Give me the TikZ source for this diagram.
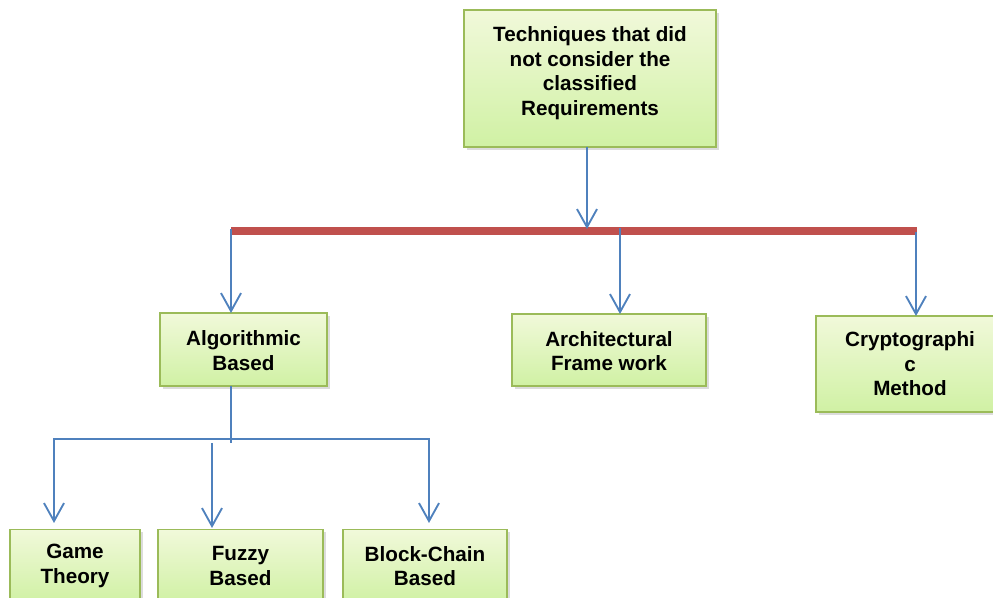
\documentclass[tikz,border=0pt]{standalone}
\usepackage{fontspec}
\setmainfont{Liberation Sans}
\usetikzlibrary{arrows.meta,shadows}
\definecolor{boxborder}{RGB}{155,187,89}
\definecolor{boxtop}{RGB}{241,249,218}
\definecolor{boxbot}{RGB}{208,241,164}
\definecolor{linkblue}{RGB}{79,129,189}
\definecolor{barred}{RGB}{192,80,77}
\begin{document}
\begin{tikzpicture}[x=0.75pt,y=-0.75pt,
  box/.style 2 args={draw=boxborder, line width=1.1pt,
    top color=boxtop, bottom color=boxbot,
    minimum width=#1*0.75pt, minimum height=#2*0.75pt,
    inner sep=0pt, align=center,
    font=\bfseries\fontsize{15.5}{18.4}\selectfont,
    drop shadow={shadow xshift=2pt, shadow yshift=-2pt, opacity=0.3, fill=black!45}},
  label/.style={align=center, inner sep=0pt,
    font=\bfseries\fontsize{15.5}{18.4}\selectfont},
  link/.style={draw=linkblue, line width=1.5pt},
  linkarrow/.style={link, -{Straight Barb[length=13.5pt,width=15pt,line width=1.4pt]}},
  bar/.style={draw=barred, line width=6pt}]
\useasboundingbox (0,0) rectangle (993,598);

% boxes
\node[box={252}{137}] (root) at (590,78.5) {};
\node[label] (rootlabel) at (590,73) {Techniques that did\\not consider the\\classified\\Requirements};
\node[box={167}{73}] (alg) at (243.5,349.5) {\strut Algorithmic\\Based};
\node[box={194}{72}] (arch) at (609,350) {\strut Architectural\\Frame work};
\node[box={188}{96}] (crypto) at (910,364) {Cryptographi\\c\\Method};
\node[box={130}{73}] (game) at (75,566) {Game\\Theory};
\node[box={165}{73}] (fuzzy) at (240.5,566) {Fuzzy\\Based};
\node[box={164}{73}] (block) at (425,566) {Block-Chain\\Based};

% main red bar
\coordinate (barL) at (231,231);
\coordinate (barR) at (917,231);
\draw[bar] (barL) -- (barR);

% root to bar
\coordinate (rootout) at (587,147);
\coordinate (rootin) at (587,229);
\draw[linkarrow] (rootout) -- (rootin);

% bar to first level
\coordinate (algin) at (231,229);
\coordinate (algtop) at (231,313);
\coordinate (archin) at (620,228);
\coordinate (archtop) at (620,314);
\coordinate (cryin) at (916,232);
\coordinate (crytop) at (916,316);
\draw[linkarrow] (algin) -- (algtop);
\draw[linkarrow] (archin) -- (archtop);
\draw[linkarrow] (cryin) -- (crytop);

% algorithmic branch
\coordinate (algout) at (231,386);
\coordinate (algend) at (231,443);
\coordinate (subL) at (53,439);
\coordinate (subR) at (430,439);
\draw[link] (algout) -- (algend);
\draw[link] (subL) -- (subR);

\coordinate (gamein) at (54,439);
\coordinate (gametop) at (54,523);
\coordinate (fuzzyin) at (212,443);
\coordinate (fuzzytop) at (212,528);
\coordinate (blockin) at (429,439);
\coordinate (blocktop) at (429,523);
\draw[linkarrow] (gamein) -- (gametop);
\draw[linkarrow] (fuzzyin) -- (fuzzytop);
\draw[linkarrow] (blockin) -- (blocktop);
\end{tikzpicture}
\end{document}
